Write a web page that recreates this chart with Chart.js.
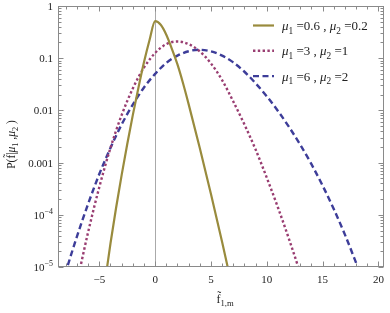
<!DOCTYPE html>
<html><head><meta charset="utf-8">
<script src="https://cdn.jsdelivr.net/npm/chart.js@4/dist/chart.umd.min.js"></script>
<style>html,body{margin:0;padding:0;background:#fff;overflow:hidden}</style>
</head><body>
<canvas id="c" width="390" height="313"></canvas>
<script>
// ---- data ----
const seriesParams = [["0.6", "0.2"], ["3", "1"], ["6", "2"]];

const xYellow = [-4.5, -4.3, -4, -3.5, -3, -2.5, -2, -1.5, -1, -0.5, 0, 0.5, 1, 1.5, 2, 2.5, 3, 4, 5, 6, 6.55, 6.8];
const yYellow = [5e-6, 1e-5, 2.82e-5, 1.35e-4, 5.75e-4, 2.24e-3, 8.13e-3, 0.0269, 0.0832, 0.224, 0.513, 0.437, 0.282, 0.151, 0.0759, 0.0331, 0.0132, 1.91e-3, 2.51e-4, 3.02e-5, 8.9e-6, 5e-6];

const xPurple = [-7, -6, -5, -4, -3, -2, -1, 0, 1, 2, 3, 4, 5, 6, 7, 8, 9, 10, 11, 12, 13, 13.5];
const yPurple = [5.01e-6, 4.68e-5, 3.39e-4, 1.91e-3, 8.13e-3, 0.0263, 0.0661, 0.126, 0.186, 0.209, 0.186, 0.135, 0.0794, 0.038, 0.0148, 5.37e-3, 1.78e-3, 5.13e-4, 1.38e-4, 3.39e-5, 7.59e-6, 3.5e-6];

const xBlue = [-8.5, -8, -7, -6, -5, -4, -3, -2, -1, 0, 1, 2, 3, 4, 5, 6, 7, 8, 9, 10, 11, 12, 13, 14, 15, 16, 17, 18, 18.5];
const yBlue = [3.2e-6, 7.94e-6, 3.85e-5, 1.62e-4, 6.03e-4, 1.91e-3, 5.37e-3, 0.0129, 0.0275, 0.0501, 0.0813, 0.112, 0.136, 0.145, 0.135, 0.112, 0.0832, 0.055, 0.0331, 0.0186, 9.77e-3, 4.79e-3, 2.19e-3, 9.33e-4, 3.63e-4, 1.29e-4, 4.17e-5, 1.2e-5, 6.3e-6];

const xTicks = [-5, 0, 5, 10, 15, 20];
const xTickLabels = ["\u22125", "0", "5", "10", "15", "20"];
const yTicks = [1, 0.1, 0.01, 0.001, 1e-4, 1e-5];
const yTickLabels = [["1", ""], ["0.1", ""], ["0.01", ""], ["0.001", ""], ["10", "\u22124"], ["10", "\u22125"]];

const toPts = (xs, ys) => xs.map((v, i) => ({x: v, y: ys[i]}));

const SERIF = '"Liberation Serif", "DejaVu Serif", serif';

function drawRich(ctx, segs, x, y, size, align) {
  const parts = segs.map(s => {
    const sz = (s.sub || s.sup) ? size * 0.72 : size;
    const font = (s.italic ? 'italic ' : '') + sz + 'px ' + SERIF;
    ctx.font = font;
    return {t: s.t, font, w: ctx.measureText(s.t).width,
            dy: s.sub ? size * 0.28 : (s.sup ? -size * 0.42 : 0)};
  });
  const total = parts.reduce((a, p) => a + p.w, 0);
  let cx = align === 'right' ? x - total : (align === 'center' ? x - total / 2 : x);
  ctx.textAlign = 'left';
  ctx.textBaseline = 'alphabetic';
  for (const p of parts) {
    ctx.font = p.font;
    ctx.fillText(p.t, cx, y + p.dy);
    cx += p.w;
  }
  return total;
}

const axesPlugin = {
  id: 'mmaAxes',
  beforeDatasetsDraw(chart) {
    const {ctx, chartArea: a, scales: {x}} = chart;
    ctx.save();
    ctx.strokeStyle = '#aaaaaa';
    ctx.lineWidth = 1;
    const px = Math.round(x.getPixelForValue(0)) + 0.5;
    ctx.beginPath(); ctx.moveTo(px, a.top); ctx.lineTo(px, a.bottom); ctx.stroke();
    ctx.restore();
  },
  afterDatasetsDraw(chart) {
    const {ctx, chartArea: a, scales: {x, y}} = chart;
    ctx.save();
    ctx.strokeStyle = '#8a8a8a';
    ctx.lineWidth = 1;
    const L = Math.round(a.left) + 0.5, R = Math.round(a.right) - 0.5;
    const T = Math.round(a.top) + 0.5, B = Math.round(a.bottom) - 0.5;
    ctx.strokeRect(L, T, R - L, B - T);
    ctx.beginPath();
    for (let v = Math.ceil(x.min); v <= Math.floor(x.max); v++) {
      const major = xTicks.includes(v);
      const len = major ? 5 : 3;
      const p = Math.round(x.getPixelForValue(v)) + 0.5;
      ctx.moveTo(p, B); ctx.lineTo(p, B - len);
      ctx.moveTo(p, T); ctx.lineTo(p, T + len);
    }
    for (let e = -5; e <= 0; e++) {
      for (let m = 1; m <= 9; m++) {
        const v = m * Math.pow(10, e);
        if (v < y.min * 0.999 || v > y.max * 1.001) continue;
        const len = m === 1 ? 5 : 3;
        const p = Math.round(y.getPixelForValue(v)) + 0.5;
        ctx.moveTo(L, p); ctx.lineTo(L + len, p);
        ctx.moveTo(R, p); ctx.lineTo(R - len, p);
      }
    }
    ctx.stroke();

    ctx.fillStyle = '#222';
    ctx.font = '11px ' + SERIF;
    xTicks.forEach((v, i) => {
      ctx.textAlign = 'center';
      ctx.textBaseline = 'alphabetic';
      ctx.fillText(xTickLabels[i], x.getPixelForValue(v), a.bottom + 16);
    });
    yTicks.forEach((v, i) => {
      const [base, sup] = yTickLabels[i];
      const segs = [{t: base}];
      if (sup) segs.push({t: sup, sup: true});
      drawRich(ctx, segs, a.left - 5, y.getPixelForValue(v) + 4, 11, 'right');
    });

    drawRich(ctx, [{t: 'f\u0303'}, {t: '1,m', sub: true}],
             (a.left + a.right) / 2 + 4, a.bottom + 36, 12, 'center');
    ctx.save();
    ctx.translate(15, (a.top + a.bottom) / 2 + 8);
    ctx.rotate(-Math.PI / 2);
    drawRich(ctx, [{t: 'P(f\u0303|'}, {t: '\u03bc', italic: true}, {t: '1', sub: true}, {t: ' ,'},
                   {t: '\u03bc', italic: true}, {t: '2', sub: true}, {t: ' )'}], 0, 0, 11.5, 'center');
    ctx.restore();

    const lx0 = a.right - 131, lx1 = a.right - 110, tx = a.right - 102;
    chart.data.datasets.forEach((ds, i) => {
      const yy = a.top + 19.5 + i * 25.3;
      ctx.save();
      ctx.strokeStyle = ds.borderColor;
      ctx.lineWidth = ds.borderWidth;
      ctx.setLineDash(ds.borderDash || []);
      ctx.beginPath(); ctx.moveTo(lx0, yy); ctx.lineTo(lx1, yy); ctx.stroke();
      ctx.restore();
      const [m1, m2] = seriesParams[i];
      ctx.fillStyle = '#222';
      drawRich(ctx, [{t: '\u03bc', italic: true}, {t: '1', sub: true}, {t: ' =' + m1 + ' , '},
                     {t: '\u03bc', italic: true}, {t: '2', sub: true}, {t: ' =' + m2}], tx, yy + 4.5, 13, 'left');
    });
    ctx.restore();
  }
};

const colYellow = 'rgb(153,139,61)';
const colPurple = 'rgb(153,61,113)';
const colBlue = 'rgb(61,61,153)';

new Chart(document.getElementById('c'), {
  type: 'line',
  data: {
    datasets: [
      {label: 'a', data: toPts(xYellow, yYellow), borderColor: colYellow, borderWidth: 2.2, pointRadius: 0, cubicInterpolationMode: 'monotone'},
      {label: 'b', data: toPts(xPurple, yPurple), borderColor: colPurple, borderWidth: 2.4, borderDash: [2.4, 2.4], pointRadius: 0, cubicInterpolationMode: 'monotone'},
      {label: 'c', data: toPts(xBlue, yBlue), borderColor: colBlue, borderWidth: 2.4, borderDash: [6, 3.5], pointRadius: 0, cubicInterpolationMode: 'monotone'}
    ]
  },
  options: {
    responsive: false,
    animation: false,
    devicePixelRatio: 1,
    layout: {padding: {left: 58, right: 6, top: 6, bottom: 46}},
    plugins: {legend: {display: false}, tooltip: {enabled: false}},
    scales: {
      x: {type: 'linear', min: -8.7, max: 20.5, display: false},
      y: {type: 'logarithmic', min: 1e-5, max: 1, display: false}
    }
  },
  plugins: [axesPlugin]
});
</script>
</body></html>
